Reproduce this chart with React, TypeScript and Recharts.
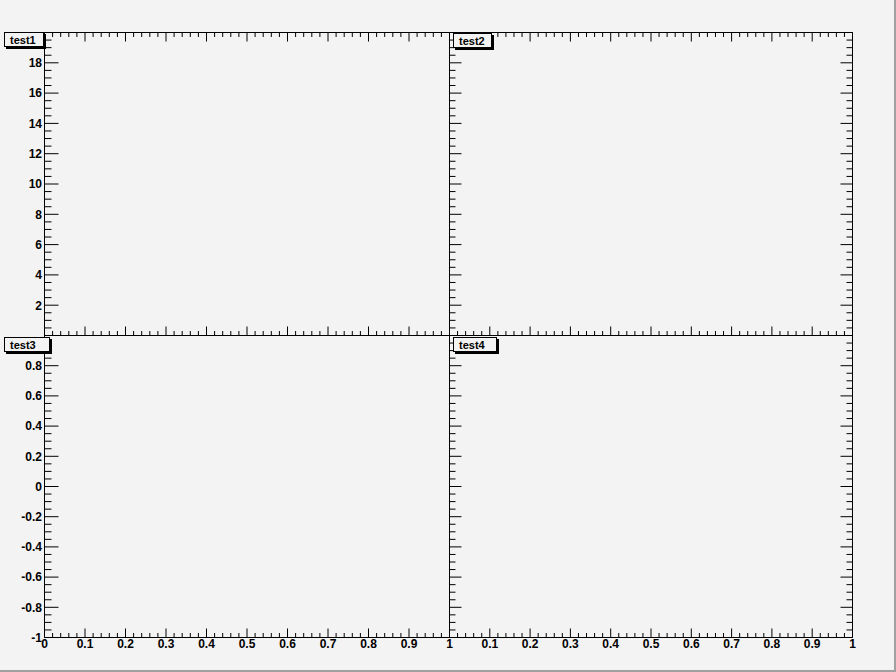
import React from 'react';
import { ComposedChart, XAxis, YAxis } from 'recharts';

const W = 896;
const H = 672;

// titles of the four histograms
const titles = ['test1', 'test2', 'test3', 'test4'];

// major ticks of each axis
const xMajor = [0, 0.1, 0.2, 0.3, 0.4, 0.5, 0.6, 0.7, 0.8, 0.9, 1];
const yTopMajor = [0, 2, 4, 6, 8, 10, 12, 14, 16, 18, 20];
const yBottomMajor = [-1, -0.8, -0.6, -0.4, -0.2, 0, 0.2, 0.4, 0.6, 0.8, 1];

// number of minor divisions between two major ticks
const xSub = 5;
const ySub = 4;

// tick labels actually printed
const xLabelsLeft = ['0', '0.1', '0.2', '0.3', '0.4', '0.5', '0.6', '0.7', '0.8', '0.9', '1'];
const xLabelsRight = ['0.1', '0.2', '0.3', '0.4', '0.5', '0.6', '0.7', '0.8', '0.9', '1'];
const yTopLabels = ['2', '4', '6', '8', '10', '12', '14', '16', '18'];
const yBottomLabels = ['-1', '-0.8', '-0.6', '-0.4', '-0.2', '0', '0.2', '0.4', '0.6', '0.8'];

const FONT = '"Liberation Sans", Arial, sans-serif';
const BG = '#f3f3f3';

function withMinor(major: number[], sub: number) {
  const out: number[] = [];
  for (let i = 0; i < major.length - 1; i++) {
    const a = major[i];
    const b = major[i + 1];
    for (let k = 0; k < sub; k++) out.push(+(a + ((b - a) * k) / sub).toFixed(6));
  }
  out.push(major[major.length - 1]);
  return out;
}

const fmt = (v: number) => String(+v.toFixed(4));

type Side = 'bottom' | 'top' | 'left' | 'right';

function makeTick(side: Side, major: number[], len: number, labels: string[]) {
  return (props: any) => {
    const { x, y, payload } = props;
    const v = payload.value as number;
    const isMajor = major.some((m) => Math.abs(m - v) < 1e-6);
    const l = isMajor ? len : len / 2;
    let line;
    if (side === 'bottom') line = <line x1={x} y1={y} x2={x} y2={y - l} stroke="#000" />;
    else if (side === 'top') line = <line x1={x} y1={y} x2={x} y2={y + l} stroke="#000" />;
    else if (side === 'left') line = <line x1={x} y1={y} x2={x + l} y2={y} stroke="#000" />;
    else line = <line x1={x} y1={y} x2={x - l} y2={y} stroke="#000" />;
    const txt = fmt(v);
    const show = isMajor && labels.includes(txt);
    let label = null;
    if (show && side === 'bottom') {
      label = (
        <text x={x} y={y + 10} textAnchor="middle" fontSize={12} fontWeight="bold" fontFamily={FONT} fill="#000">
          {txt}
        </text>
      );
    } else if (show && side === 'left') {
      label = (
        <text x={x - 2.5} y={y} dy="0.36em" textAnchor="end" fontSize={12} fontWeight="bold" fontFamily={FONT} fill="#000">
          {txt}
        </text>
      );
    }
    return (
      <g>
        {line}
        {label}
      </g>
    );
  };
}

type PadProps = {
  frame: { x0: number; x1: number; y0: number; y1: number };
  yMajor: number[];
  xLabels: string[];
  yLabels: string[];
  yLen: number;
  top: boolean;
  right: boolean;
};

const common = {
  type: 'number' as const,
  interval: 0 as const,
  tickLine: false,
  tickSize: 0,
  tickMargin: 0,
  allowDataOverflow: true,
  axisLine: { stroke: '#000' },
};

const layer = { position: 'absolute' as const, left: 0, top: 0 };

function Pad({ frame, yMajor, xLabels, yLabels, yLen, top, right }: PadProps) {
  const xTicks = withMinor(xMajor, xSub);
  const yTicks = withMinor(yMajor, ySub);
  const xDomain = [xMajor[0], xMajor[xMajor.length - 1]];
  const yDomain = [yMajor[0], yMajor[yMajor.length - 1]];
  // every axis takes 1px of room, subtract it from the margin
  const yMargin = {
    left: frame.x0 - 1,
    right: W - frame.x1 - (right ? 1 : 0),
    top: frame.y0,
    bottom: H - frame.y1,
  };
  const xMargin = {
    left: frame.x0,
    right: W - frame.x1,
    top: frame.y0 - (top ? 1 : 0),
    bottom: H - frame.y1 - 1,
  };
  return (
    <>
      {/* y axes: numerical in the horizontal layout */}
      <div style={layer}>
        <ComposedChart width={W} height={H} data={[]} margin={yMargin}>
          <YAxis
            {...common}
            yAxisId="l"
            orientation="left"
            width={1}
            domain={yDomain}
            ticks={yTicks}
            tick={makeTick('left', yMajor, yLen, yLabels)}
          />
          {right && (
            <YAxis
              {...common}
              yAxisId="r"
              orientation="right"
              width={1}
              domain={yDomain}
              ticks={yTicks}
              tick={makeTick('right', yMajor, 12, [])}
            />
          )}
        </ComposedChart>
      </div>
      {/* x axes: numerical in the vertical layout */}
      <div style={layer}>
        <ComposedChart width={W} height={H} data={[]} margin={xMargin} layout="vertical">
          <XAxis
            {...common}
            xAxisId="b"
            orientation="bottom"
            height={1}
            domain={xDomain}
            ticks={xTicks}
            tick={makeTick('bottom', xMajor, 9, xLabels)}
          />
          {top && (
            <XAxis
              {...common}
              xAxisId="t"
              orientation="top"
              height={1}
              domain={xDomain}
              ticks={xTicks}
              tick={makeTick('top', xMajor, 9, [])}
            />
          )}
        </ComposedChart>
      </div>
    </>
  );
}

function TitleBox({ text, left, top, width }: { text: string; left: number; top: number; width: number }) {
  return (
    <div
      style={{
        position: 'absolute',
        left,
        top,
        width,
        height: 15,
        boxSizing: 'border-box',
        border: '1px solid #000',
        boxShadow: '2px 2px 0 #000',
        background: BG,
        fontFamily: FONT,
        fontWeight: 'bold',
        fontSize: 11,
        lineHeight: '14px',
        paddingLeft: 5,
        color: '#000',
      }}
    >
      {text}
    </div>
  );
}

export default function App() {
  return (
    <div
      style={{
        position: 'relative',
        width: W,
        height: H,
        background: BG,
        overflow: 'hidden',
      }}
    >
      <style>{'body{margin:0}'}</style>
      <Pad
        frame={{ x0: 44.5, x1: 449.5, y0: 32.5, y1: 335.5 }}
        yMajor={yTopMajor}
        xLabels={[]}
        yLabels={yTopLabels}
        yLen={14}
        top
        right={false}
      />
      <Pad
        frame={{ x0: 449.5, x1: 852.5, y0: 32.5, y1: 335.5 }}
        yMajor={yTopMajor}
        xLabels={[]}
        yLabels={[]}
        yLen={12}
        top
        right
      />
      <Pad
        frame={{ x0: 44.5, x1: 449.5, y0: 335.5, y1: 637.5 }}
        yMajor={yBottomMajor}
        xLabels={xLabelsLeft}
        yLabels={yBottomLabels}
        yLen={14}
        top={false}
        right={false}
      />
      <Pad
        frame={{ x0: 449.5, x1: 852.5, y0: 335.5, y1: 637.5 }}
        yMajor={yBottomMajor}
        xLabels={xLabelsRight}
        yLabels={[]}
        yLen={12}
        top={false}
        right
      />
      <TitleBox text={titles[0]} left={4} top={32} width={40} />
      <TitleBox text={titles[1]} left={453} top={33} width={39} />
      <TitleBox text={titles[2]} left={4} top={337} width={46} />
      <TitleBox text={titles[3]} left={453} top={337} width={44} />
      <div style={{ position: 'absolute', right: 0, top: 0, width: 2, height: H, background: '#a0a0a0' }} />
      <div style={{ position: 'absolute', left: 0, bottom: 0, width: W, height: 2, background: '#a0a0a0' }} />
    </div>
  );
}
